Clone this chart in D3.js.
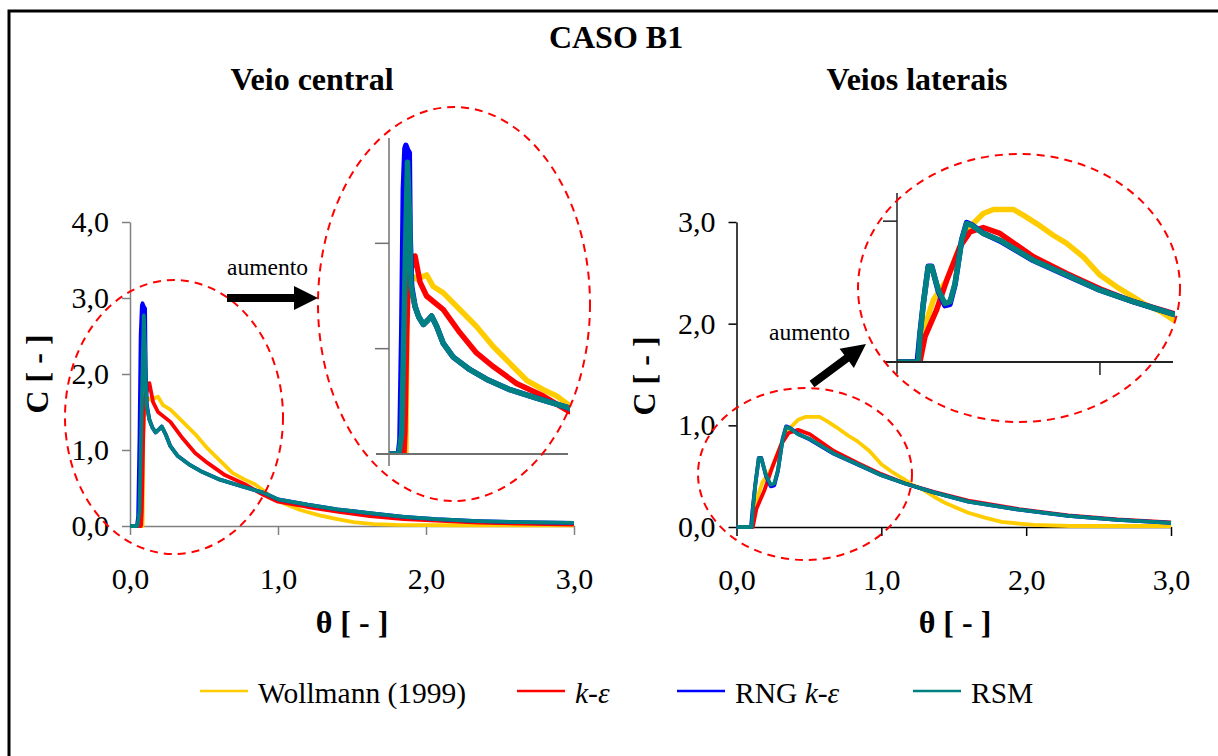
<!DOCTYPE html>
<html>
<head>
<meta charset="utf-8">
<script src="https://cdn.jsdelivr.net/npm/d3@7"></script>
<style>
  body { margin: 0; background: #fff; }
  svg { display: block; font-family: "Liberation Serif", "Times New Roman", serif; }
</style>
</head>
<body>
<div id="chart"></div>
<script>
/*------------------------------- data -------------------------------*/

const seriesNames = ["Wollmann (1999)", "k-ε", "RNG k-ε", "RSM"];

// Veio central
const centralWollmannTheta = [0, 0.085, 0.09, 0.095, 0.11, 0.139, 0.189, 0.223, 0.273, 0.357, 0.44, 0.524, 0.608, 0.692, 0.776, 0.843, 0.9, 0.95, 1.05, 1.15, 1.28, 1.4, 1.51, 1.65, 1.8, 2.2, 3.0];
const centralWollmannC = [0, 0, 1.2, 1.8, 1.7, 1.66, 1.7, 1.59, 1.53, 1.37, 1.21, 1.02, 0.86, 0.7, 0.61, 0.55, 0.47, 0.39, 0.29, 0.21, 0.14, 0.09, 0.05, 0.025, 0.015, 0.01, 0.01];

const centralKeTheta = [0, 0.075, 0.08, 0.089, 0.097, 0.131, 0.156, 0.189, 0.273, 0.357, 0.44, 0.524, 0.641, 0.776, 0.9, 1.0, 1.2, 1.4, 1.62, 1.85, 2.07, 2.35, 2.64, 3.0];
const centralKeC = [0, 0, 0.2, 1.15, 1.67, 1.88, 1.63, 1.5, 1.37, 1.15, 0.96, 0.83, 0.67, 0.55, 0.41, 0.32, 0.25, 0.19, 0.13, 0.09, 0.07, 0.045, 0.03, 0.02];

const centralRngTheta = [0, 0.047, 0.055, 0.064, 0.072, 0.08, 0.085, 0.095, 0.102, 0.106, 0.114, 0.131, 0.15, 0.173, 0.195, 0.214, 0.24, 0.273, 0.323, 0.407, 0.49, 0.608, 0.742, 0.9, 1.0, 1.2, 1.4, 1.62, 1.85, 2.07, 2.35, 2.64, 3.0];
const centralRngC = [0, 0, 0.13, 1.15, 2.51, 2.9, 2.93, 2.88, 2.86, 2.1, 1.59, 1.4, 1.3, 1.23, 1.27, 1.31, 1.21, 1.05, 0.92, 0.8, 0.71, 0.61, 0.53, 0.44, 0.35, 0.28, 0.22, 0.17, 0.12, 0.09, 0.065, 0.05, 0.04];

const centralRsmTheta = [0, 0.05, 0.064, 0.078, 0.085, 0.093, 0.102, 0.111, 0.131, 0.15, 0.173, 0.195, 0.214, 0.24, 0.273, 0.323, 0.407, 0.49, 0.608, 0.742, 0.9, 1.0, 1.2, 1.4, 1.62, 1.85, 2.07, 2.35, 2.64, 3.0];
const centralRsmC = [0, 0, 0.19, 1.46, 2.1, 2.77, 2.32, 1.59, 1.4, 1.3, 1.23, 1.27, 1.31, 1.21, 1.05, 0.92, 0.8, 0.71, 0.61, 0.53, 0.44, 0.35, 0.28, 0.22, 0.17, 0.12, 0.09, 0.065, 0.05, 0.04];

// Veios laterais
const lateralWollmannTheta = [0, 0.105, 0.13, 0.179, 0.245, 0.31, 0.36, 0.425, 0.475, 0.573, 0.622, 0.688, 0.77, 0.836, 0.918, 1.0, 1.082, 1.164, 1.213, 1.296, 1.361, 1.45, 1.6, 1.72, 1.83, 2.05, 2.3, 3.0];
const lateralWollmannC = [0, 0, 0.227, 0.44, 0.58, 0.82, 0.96, 1.054, 1.083, 1.083, 1.043, 0.983, 0.9, 0.842, 0.747, 0.617, 0.534, 0.463, 0.416, 0.36, 0.3, 0.23, 0.14, 0.09, 0.05, 0.02, 0.01, 0.01];

const lateralKeTheta = [0, 0.113, 0.138, 0.195, 0.245, 0.31, 0.36, 0.425, 0.507, 0.672, 0.836, 1.0, 1.164, 1.361, 1.6, 1.95, 2.29, 2.63, 3.0];
const lateralKeC = [0, 0, 0.18, 0.37, 0.58, 0.818, 0.924, 0.955, 0.913, 0.747, 0.629, 0.52, 0.428, 0.345, 0.26, 0.175, 0.115, 0.075, 0.045];

const lateralRngTheta = [0, 0.1, 0.113, 0.13, 0.154, 0.171, 0.204, 0.236, 0.261, 0.286, 0.319, 0.343, 0.368, 0.425, 0.507, 0.672, 0.836, 1.0, 1.164, 1.361, 1.6, 1.95, 2.29, 2.63, 3.0];
const lateralRngC = [0, 0, 0.2, 0.42, 0.68, 0.68, 0.5, 0.4, 0.41, 0.55, 0.87, 0.99, 0.975, 0.915, 0.86, 0.72, 0.615, 0.51, 0.428, 0.34, 0.25, 0.17, 0.11, 0.07, 0.04];

const lateralRsmTheta = [0, 0.105, 0.113, 0.13, 0.154, 0.171, 0.204, 0.236, 0.261, 0.286, 0.319, 0.343, 0.368, 0.425, 0.507, 0.672, 0.836, 1.0, 1.164, 1.361, 1.6, 1.95, 2.29, 2.63, 3.0];
const lateralRsmC = [0, 0, 0.18, 0.416, 0.676, 0.676, 0.51, 0.416, 0.428, 0.558, 0.865, 0.983, 0.972, 0.913, 0.865, 0.723, 0.617, 0.51, 0.428, 0.34, 0.25, 0.17, 0.11, 0.07, 0.04];

// ticks
const xTicks = [0, 1, 2, 3];
const yTicksCentral = [0, 1, 2, 3, 4];
const yTicksLateral = [0, 1, 2, 3];

/*------------------------------- init -------------------------------*/

const colors = ["#FFCC00", "#FF0000", "#0000FF", "#008080"];
const fmt = d => d3.format(".1f")(d).replace(".", ",");
const zip = (t, c) => t.map((v, i) => ({ t: v, c: c[i] }));

const centralSeries = [
    zip(centralWollmannTheta, centralWollmannC),
    zip(centralKeTheta, centralKeC),
    zip(centralRngTheta, centralRngC),
    zip(centralRsmTheta, centralRsmC)
];
const lateralSeries = [
    zip(lateralWollmannTheta, lateralWollmannC),
    zip(lateralKeTheta, lateralKeC),
    zip(lateralRngTheta, lateralRngC),
    zip(lateralRsmTheta, lateralRsmC)
];

const svg = d3.select("#chart").append("svg").attr("width", 1218).attr("height", 756);
svg.append("rect").attr("width", 1218).attr("height", 756).attr("fill", "#fff");

// frame (only top and left are inside the picture)
svg.append("path").attr("d", "M9,770 V11 H1230")
    .attr("fill", "none").attr("stroke", "#000").attr("stroke-width", 3);

// titles
const title = (txt, x, y) => svg.append("text").text(txt)
    .attr("x", x).attr("y", y).attr("text-anchor", "middle")
    .style("font-size", "32px").style("font-weight", "bold");
title("CASO B1", 616, 48);
title("Veio central", 312, 90);
title("Veios laterais", 917, 90);

/*------------------------------- panels -------------------------------*/

const drawCurves = (g, series, x, y, width) => {
    const line = d3.line().x(d => x(d.t)).y(d => y(d.c));
    g.selectAll(".curve")
        .data(series)
        .enter()
        .append("path")
        .attr("class", "curve")
        .attr("d", line)
        .attr("fill", "none")
        .attr("stroke", (d, i) => colors[i])
        .attr("stroke-width", width)
        .attr("stroke-linejoin", "round");
};

const drawMain = (cfg) => {
    const x = d3.scaleLinear().domain([0, 3]).range(cfg.xRange);
    const y = d3.scaleLinear().domain(cfg.yDomain).range(cfg.yRange);
    const g = svg.append("g");

    const xAxis = g.append("g").attr("transform", `translate(0,${cfg.yRange[0]})`)
        .call(d3.axisBottom(x).tickValues(xTicks).tickFormat(fmt).tickSize(9).tickSizeOuter(0).tickPadding(33));
    const yAxis = g.append("g").attr("transform", `translate(${cfg.xRange[0]},0)`)
        .call(d3.axisLeft(y).tickValues(cfg.yTicks).tickFormat(fmt).tickSize(8).tickSizeOuter(0).tickPadding(13));
    [xAxis, yAxis].forEach(a => {
        a.select(".domain").attr("stroke", cfg.axisColor).attr("stroke-width", 1.5);
        a.selectAll(".tick line").attr("stroke", cfg.axisColor).attr("stroke-width", 1.5);
        a.selectAll(".tick text").attr("fill", "#000")
            .style("font-size", "30px").style("font-family", "Liberation Serif, serif");
    });

    drawCurves(g, cfg.series, x, y, 3.8);

    // axis titles
    g.append("text").text("C [ - ]")
        .attr("transform", `translate(${cfg.cLabel[0]},${cfg.cLabel[1]}) rotate(-90)`)
        .attr("text-anchor", "middle")
        .style("font-size", "32px").style("font-weight", "bold");
    g.append("text").text("θ [ - ]")
        .attr("x", cfg.tLabel[0]).attr("y", cfg.tLabel[1])
        .attr("text-anchor", "middle")
        .style("font-size", "32px").style("font-weight", "bold");
};

const drawInset = (cfg, id) => {
    const x = d3.scaleLinear().domain(cfg.xDomain).range(cfg.xRange);
    const y = d3.scaleLinear().domain(cfg.yDomain).range(cfg.yRange);
    const g = svg.append("g");

    g.append("clipPath").attr("id", id).append("rect")
        .attr("x", cfg.xRange[0]).attr("y", cfg.yRange[1] - 4)
        .attr("width", cfg.xRange[1] - cfg.xRange[0] + 2)
        .attr("height", cfg.yRange[0] - cfg.yRange[1] + 4);

    drawCurves(g.append("g").attr("clip-path", `url(#${id})`), cfg.series, x, y, 5.5);

    const x0 = cfg.xRange[0], y0 = cfg.yRange[0];
    // axes lines, extended past origin like tick marks
    g.append("line").attr("x1", x0).attr("x2", x0).attr("y1", cfg.yRange[1]).attr("y2", y0 + 12)
        .attr("stroke", cfg.axisColor).attr("stroke-width", 1.5);
    g.append("line").attr("x1", x0 - 13).attr("x2", cfg.xRange[1]).attr("y1", y0).attr("y2", y0)
        .attr("stroke", cfg.axisColor).attr("stroke-width", 2);
    g.selectAll(".ytick").data(cfg.yTicks).enter().append("line")
        .attr("x1", x0 - 14).attr("x2", x0).attr("y1", d => y(d)).attr("y2", d => y(d))
        .attr("stroke", cfg.axisColor).attr("stroke-width", 1.5);
    g.selectAll(".xtick").data(cfg.xTicks).enter().append("line")
        .attr("x1", d => x(d)).attr("x2", d => x(d)).attr("y1", y0).attr("y2", y0 + 13)
        .attr("stroke", cfg.axisColor).attr("stroke-width", 1.5);
};

drawMain({
    series: centralSeries, xRange: [130, 574], yDomain: [0, 4], yRange: [526, 222],
    yTicks: yTicksCentral, axisColor: "#808080", cLabel: [48, 374], tLabel: [352, 633]
});
drawMain({
    series: lateralSeries, xRange: [736.5, 1171], yDomain: [0, 3], yRange: [527, 222],
    yTicks: yTicksLateral, axisColor: "#000", cLabel: [655, 376], tLabel: [955, 633]
});

drawInset({
    series: centralSeries, xDomain: [0, 0.9], xRange: [389, 568], yDomain: [0, 3], yRange: [454, 138],
    yTicks: [1, 2], xTicks: [], axisColor: "#707070"
}, "clipCentral");
drawInset({
    series: lateralSeries, xDomain: [0, 1.36], xRange: [897, 1173], yDomain: [0, 1.2], yRange: [362, 193],
    yTicks: [1], xTicks: [1], axisColor: "#222"
}, "clipLateral");

/*------------------------------- annotations -------------------------------*/

const ellipse = (cx, cy, rx, ry) => svg.append("ellipse")
    .attr("cx", cx).attr("cy", cy).attr("rx", rx).attr("ry", ry)
    .attr("fill", "none").attr("stroke", "#FF0000")
    .attr("stroke-width", 2).attr("stroke-dasharray", "8,6");
ellipse(174, 417, 109, 137);
ellipse(454, 304, 136, 197);
ellipse(805, 474, 107, 86);
ellipse(1019, 288, 161, 134);

const arrow = (x1, y1, x2, y2) => {
    const len = Math.hypot(x2 - x1, y2 - y1);
    const ux = (x2 - x1) / len, uy = (y2 - y1) / len;
    const nx = -uy, ny = ux;
    const head = 24, hw = 12, sw = 4;
    const bx = x2 - ux * head, by = y2 - uy * head;
    const pts = [
        [x1 + nx * sw, y1 + ny * sw], [bx + nx * sw, by + ny * sw], [bx + nx * hw, by + ny * hw],
        [x2, y2],
        [bx - nx * hw, by - ny * hw], [bx - nx * sw, by - ny * sw], [x1 - nx * sw, y1 - ny * sw]
    ];
    svg.append("polygon").attr("points", pts.map(p => p.join(",")).join(" ")).attr("fill", "#000");
};
arrow(227, 298, 318, 298);
arrow(812, 384, 866, 344);

svg.append("text").text("aumento").attr("x", 227).attr("y", 275).style("font-size", "23.5px");
svg.append("text").text("aumento").attr("x", 769).attr("y", 340).style("font-size", "23.5px");

/*------------------------------- legend -------------------------------*/

const legendX = [200, 517, 677, 913];
const legend = svg.append("g");
seriesNames.forEach((name, i) => {
    legend.append("line")
        .attr("x1", legendX[i]).attr("x2", legendX[i] + 48)
        .attr("y1", 691).attr("y2", 691)
        .attr("stroke", colors[i]).attr("stroke-width", 2.5);
    const t = legend.append("text").attr("x", legendX[i] + 58).attr("y", 703).style("font-size", "29.5px");
    const m = name.match(/^(.*?)k-ε$/);
    if (m) {
        if (m[1]) t.append("tspan").text(m[1]);
        t.append("tspan").text("k").style("font-style", "italic");
        t.append("tspan").text("-");
        t.append("tspan").text("ε").style("font-style", "italic");
    } else {
        t.text(name);
    }
});
</script>
</body>
</html>
